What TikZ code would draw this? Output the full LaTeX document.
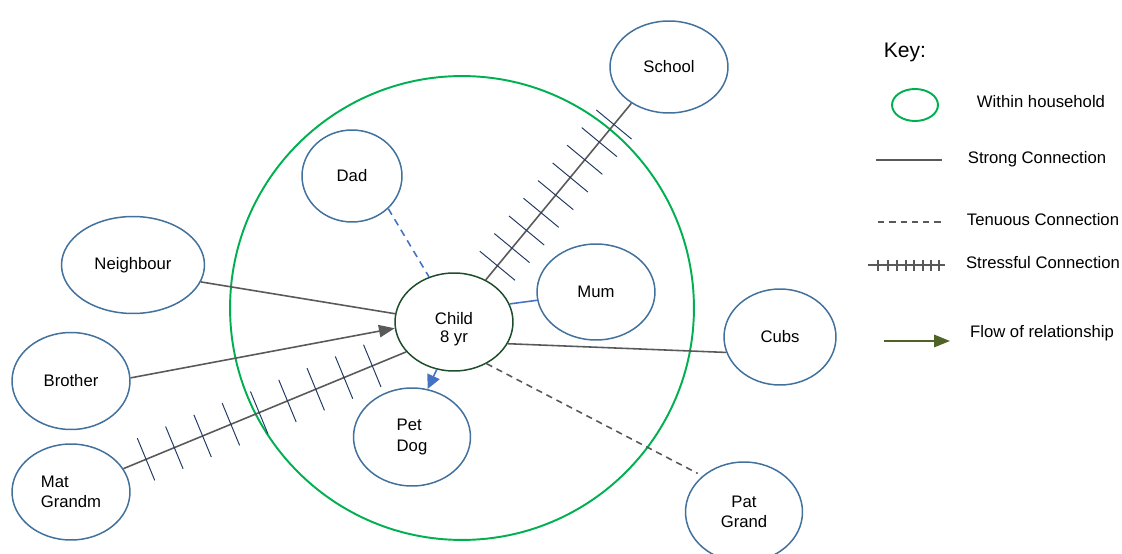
\documentclass[tikz,border=0pt]{standalone}
\usepackage{fontspec}
\setmainfont{Liberation Sans}
\usetikzlibrary{shapes.geometric,arrows.meta,decorations.markings}
\definecolor{nodeblue}{HTML}{41719C}
\definecolor{childgreen}{HTML}{1E4D2B}
\definecolor{hhgreen}{HTML}{00B050}
\definecolor{linegray}{HTML}{595959}
\definecolor{ticknavy}{HTML}{203864}
\definecolor{connblue}{HTML}{4472C4}
\definecolor{flowgreen}{HTML}{4F6228}
\begin{document}
\begin{tikzpicture}[x={(0.02cm,0)},y={(0,-0.02cm)},
  font=\fontsize{9.5pt}{11.5pt}\selectfont,
  person/.style={ellipse,draw=nodeblue,line width=0.85pt,inner sep=0pt,fill=white,align=center},
  strong/.style={draw=linegray,line width=0.9pt},
  tenuous/.style={draw=linegray,line width=0.9pt,dash pattern=on 3.6pt off 2.8pt},
  stressful/.style={strong,postaction={decorate},decoration={markings,
     mark=between positions 0.08 and 0.89 step 0.1 with {\draw[ticknavy,line width=0.55pt] (0,-13pt)--(0,13pt);}}},
  keytext/.style={anchor=center}]
\useasboundingbox (0,0) rectangle (1122,554);
% household circle
\node[circle,draw=hhgreen,line width=1.1pt,minimum size=9.28cm,inner sep=0pt] (house) at (462,308) {};
% people
\node[person,minimum width=2.36cm,minimum height=1.96cm,draw=childgreen,text depth=0pt] (child) at (454,322) {\begin{tabular}{@{}c@{}}Child\\[-1pt]8 yr\end{tabular}};
\node[person,minimum width=2.0cm,minimum height=1.84cm] (dad) at (352,176) {Dad};
\node[person,minimum width=2.36cm,minimum height=1.84cm] (school) at (669,67) {School};
\node[person,minimum width=2.86cm,minimum height=1.94cm] (neigh) at (133,265) {Neighbour};
\node[person,minimum width=2.36cm,minimum height=1.92cm] (mum) at (596,292) {Mum};
\node[person,minimum width=2.24cm,minimum height=1.92cm] (cubs) at (780,337) {Cubs};
\node[person,minimum width=2.36cm,minimum height=1.94cm] (bro) at (71,381) {Brother};
\node[person,minimum width=2.36cm,minimum height=1.92cm,align=left] (grandm) at (71,492) {Mat\\Grandm};
\node[person,minimum width=2.34cm,minimum height=1.96cm,align=left] (dog) at (412,437) {Pet\\Dog};
\node[person,minimum width=2.34cm,minimum height=2.0cm] (pat) at (744,512) {Pat\\Grand};
% connections
\draw[connblue,line width=0.9pt,dash pattern=on 4pt off 3pt] (dad.-42) -- (child.119);
\path[stressful] (child.53.5) -- (school.-136);
\draw[connblue,line width=0.9pt] (child.18) -- (mum.188);
\draw[strong] (neigh.-14.6) -- (child.172.5);
\draw[strong,-{Triangle[length=9pt,width=7pt]}] (bro.3) -- (child.186);
\path[stressful] (grandm.24) -- (child.212);
\draw[connblue,line width=0.9pt,-{Triangle[length=8pt,width=7.5pt]}] (child.250.5) -- (dog.72);
\draw[strong] (child.338.6) -- (cubs.196);
\draw[tenuous,shorten >=3pt] (child.308) -- (pat.139);
% key
\node[font=\fontsize{12pt}{14pt}\selectfont] (key) at (905,52) {Key:};
\node[ellipse,draw=hhgreen,line width=1.1pt,minimum width=0.92cm,minimum height=0.64cm,inner sep=0pt] (kh) at (915,105) {};
\node[keytext] (t1) at (1041,102) {Within household};
\coordinate (s1) at (876,160); \coordinate (s2) at (942,160);
\draw[strong] (s1) -- (s2);
\node[keytext] (t2) at (1037,159) {Strong Connection};
\coordinate (d1) at (878,222); \coordinate (d2) at (943,222);
\draw[tenuous] (d1) -- (d2);
\node[keytext] (t3) at (1043,220) {Tenuous Connection};
\coordinate (x1) at (868,265); \coordinate (x2) at (945,265);
\draw[strong] (x1) -- (x2);
\foreach \xx in {878,888,897,906,914,923,931,939}
  \draw[linegray,line width=0.7pt] (\xx,259.5) -- (\xx,270.5);
\node[keytext] (t4) at (1043,263) {Stressful Connection};
\coordinate (f1) at (884,341); \coordinate (f2) at (950,341);
\draw[flowgreen,line width=1.1pt,-{Triangle[length=9pt,width=7pt]}] (f1) -- (f2);
\node[keytext] (t5) at (1042,333) {Flow of relationship};
\end{tikzpicture}
\end{document}
